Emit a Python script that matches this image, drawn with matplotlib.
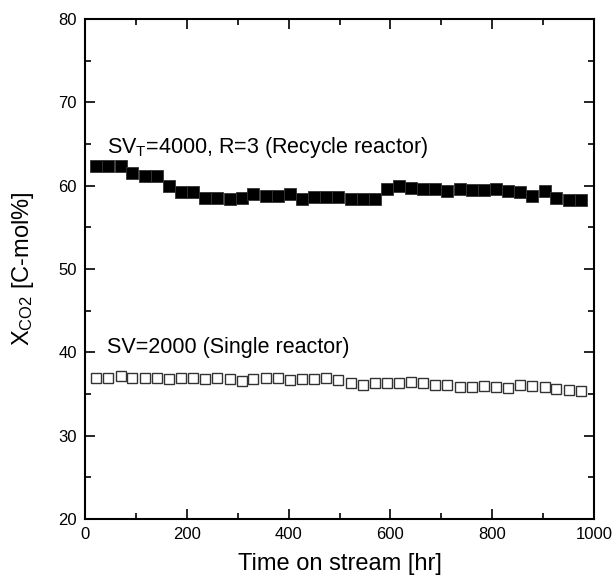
import matplotlib
matplotlib.use("Agg")
import matplotlib.pyplot as plt
from matplotlib.ticker import MultipleLocator

plt.rcParams['font.family'] = ['Liberation Sans', 'DejaVu Sans']
plt.rcParams['mathtext.fontset'] = 'custom'
plt.rcParams['mathtext.rm'] = 'Liberation Sans'
plt.rcParams['mathtext.it'] = 'Liberation Sans:italic'

time_hr = [22, 46, 70, 93, 117, 141, 165, 189, 212, 236, 260, 284, 308, 331, 355,
           379, 403, 427, 450, 474, 498, 522, 546, 569, 593, 617, 641, 665, 688,
           712, 736, 760, 784, 807, 831, 855, 879, 903, 926, 950, 974]

recycle = [62.35, 62.35, 62.35, 61.5, 61.2, 61.2, 60.0, 59.3, 59.3, 58.55, 58.55,
           58.4, 58.55, 58.95, 58.75, 58.75, 58.95, 58.4, 58.6, 58.6, 58.6,
           58.45, 58.45, 58.45, 59.55, 60.0, 59.75, 59.6, 59.55, 59.35, 59.55,
           59.45, 59.45, 59.55, 59.4, 59.25, 58.8, 59.4, 58.55, 58.3, 58.3]

single = [36.87, 36.87, 37.14, 36.94, 36.87, 36.98, 36.78, 36.87, 36.87, 36.75,
          36.98, 36.75, 36.58, 36.83, 36.87, 36.94, 36.67, 36.78, 36.78, 36.87,
          36.67, 36.34, 36.14, 36.27, 36.34, 36.27, 36.42, 36.27, 36.14, 36.03,
          35.86, 35.86, 35.94, 35.86, 35.70, 36.06, 35.94, 35.86, 35.55, 35.46,
          35.38]

fig = plt.figure(figsize=(6.13, 5.81), dpi=100)
ax = fig.add_axes([0.1387, 0.1067, 0.8303, 0.8606])

ax.plot(time_hr, recycle, linestyle='none', marker='s', markersize=8,
        color='black', markeredgecolor='#333333', markeredgewidth=0.6)
ax.plot(time_hr, single, linestyle='none', marker='s', markersize=7.6,
        markerfacecolor='white', markeredgecolor='#333333', markeredgewidth=1.0)

ax.set_xlim(0, 1000)
ax.set_ylim(20, 80)
ax.xaxis.set_major_locator(MultipleLocator(200))
ax.xaxis.set_minor_locator(MultipleLocator(100))
ax.yaxis.set_major_locator(MultipleLocator(10))
ax.yaxis.set_minor_locator(MultipleLocator(5))
ax.tick_params(which='both', direction='in', top=True, right=True,
               labelsize=12, width=1.2)
ax.tick_params(which='major', length=7, pad=6)
ax.tick_params(which='minor', length=4)
for s in ax.spines.values():
    s.set_linewidth(1.5)

ax.set_xlabel('Time on stream [hr]', fontsize=17, labelpad=8)
ax.set_ylabel(r'X$_{\mathrm{CO2}}$ [C-mol%]', fontsize=17, labelpad=16)

ax.text(43, 64.6, r'SV$_{\mathrm{T}}$=4000, R=3 (Recycle reactor)', fontsize=15.5,
        va='center', ha='left')
ax.text(43, 40.6, 'SV=2000 (Single reactor)', fontsize=15.5, va='center', ha='left')

fig.savefig('out.png', dpi=100)
